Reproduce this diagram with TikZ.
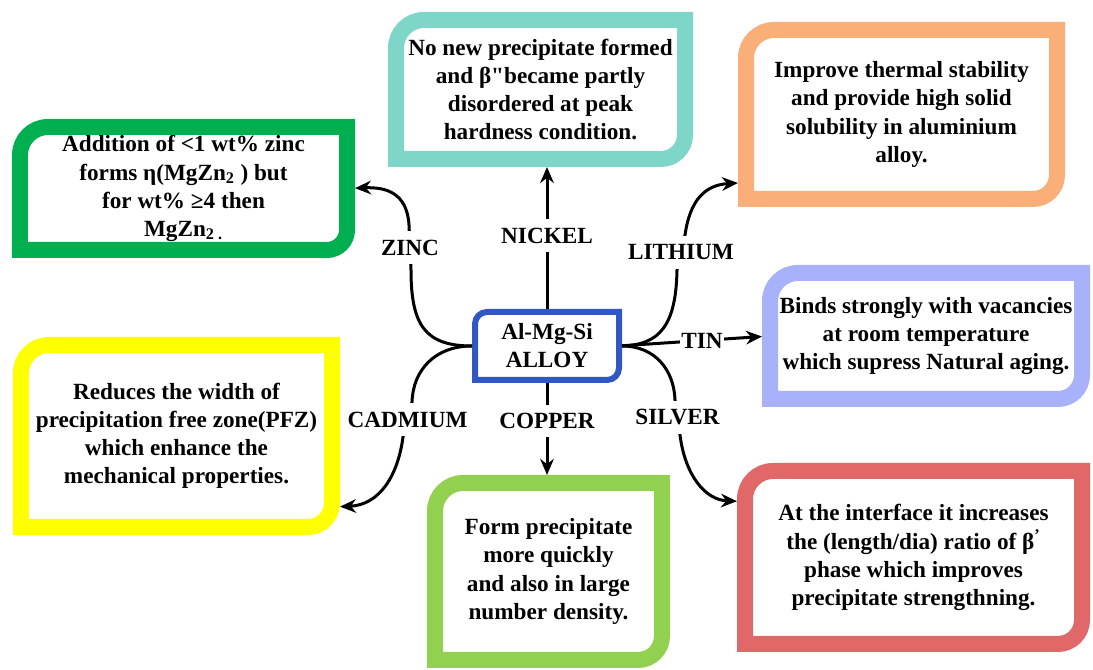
\documentclass[tikz,border=0pt]{standalone}
\usepackage{fontspec}
\setmainfont{Liberation Serif}
\usetikzlibrary{arrows.meta}

\definecolor{zinccol}{RGB}{0,176,80}
\definecolor{nickelcol}{RGB}{125,214,200}
\definecolor{lithiumcol}{RGB}{250,175,120}
\definecolor{tincol}{RGB}{168,178,250}
\definecolor{cadmiumcol}{RGB}{255,255,0}
\definecolor{coppercol}{RGB}{146,208,80}
\definecolor{silvercol}{RGB}{224,104,104}
\definecolor{alloycol}{RGB}{48,88,196}

\tikzset{
  leaf/.style={inner sep=0pt, outer sep=0pt, align=center,
    font=\fontsize{16.5}{20}\selectfont\bfseries},
  frame/.style={line width=4mm, line join=miter},
  link/.style={line width=0.75mm, -{Stealth[length=4mm,width=3.4mm]},
    shorten >=2mm, shorten <=0.75mm},
  tag/.style={fill=white, inner xsep=1pt, inner ysep=6pt,
    font=\fontsize{16.5}{20}\selectfont\bfseries},
}

% box outline: round top-left and bottom-right corners, square elsewhere
\newcommand{\leafframe}[4]{%
  \draw[frame, draw=#2]
    ([xshift=#3]#1.north west) -- (#1.north east) -- ([yshift=#4]#1.south east)
    arc[start angle=0, end angle=-90, radius=#4] -- (#1.south west)
    -- ([yshift=-#3]#1.north west)
    arc[start angle=180, end angle=90, radius=#3] -- cycle;
}

\begin{document}
\begin{tikzpicture}[x=0.25mm, y=0.25mm]
\useasboundingbox[fill=white] (0,0) rectangle (1093,670);

% centre and the seven elements
\node[leaf, minimum width=36mm, minimum height=17mm] (alloy) at (547,324) {Al-Mg-Si\\ALLOY};
\node[leaf, minimum width=81.75mm, minimum height=30.75mm] (zinc) at (183.5,481.5)
  {Addition of <1 wt\% zinc\\ forms η(MgZn\textsubscript{2} ) but\\for wt\% ≥4 then\\MgZn\textsubscript{2 .}};
\node[leaf, minimum width=72.25mm, minimum height=34.75mm] (nickel) at (540.5,580.5)
  {No new precipitate formed\\and β\textquotedbl became partly\\disordered at peak\\hardness condition.};
\node[leaf, minimum width=77.75mm, minimum height=42.25mm] (lithium) at (901.5,555.5)
  {Improve thermal stability\\and provide high solid\\solubility in aluminium\\alloy.};
\node[leaf, minimum width=78mm, minimum height=31.5mm] (tin) at (926,334)
  {Binds strongly with vacancies\\at room temperature\\which supress Natural aging.};
\node[leaf, minimum width=77.75mm, minimum height=45.5mm] (cadmium) at (176.5,234)
  {Reduces the width of\\precipitation free zone(PFZ)\\which enhance the\\mechanical properties.};
\node[leaf, minimum width=56.75mm, minimum height=44.25mm] (copper) at (548.5,98.5)
  {Form precipitate\\more quickly\\and also in large\\number density.};
\node[leaf, minimum width=84.25mm, minimum height=43.25mm] (silver) at (913.5,112.5)
  {At the interface it increases\\the (length/dia) ratio of β\textsuperscript{'}\\phase which improves\\precipitate strengthning.};

\leafframe{zinc}{zinccol}{7mm}{5mm}
\leafframe{nickel}{nickelcol}{7mm}{6mm}
\leafframe{lithium}{lithiumcol}{7mm}{6mm}
\leafframe{tin}{tincol}{7mm}{6mm}
\leafframe{cadmium}{cadmiumcol}{7mm}{6mm}
\leafframe{copper}{coppercol}{7mm}{6mm}
\leafframe{silver}{silvercol}{7mm}{6mm}
\draw[line width=1.5mm, draw=alloycol]
  ([xshift=3mm]alloy.north west) -- (alloy.north east) -- ([yshift=3mm]alloy.south east)
  arc[start angle=0, end angle=-90, radius=3mm] -- (alloy.south west)
  -- ([yshift=-3mm]alloy.north west)
  arc[start angle=180, end angle=90, radius=3mm] -- cycle;

% connectors
\draw[link] (alloy.west) .. controls (425,324) and (411,345) .. (411,400)
  -- node[tag] {ZINC} (409,445) .. controls (407,478) and (385,483) .. (zinc.east);
\draw[link] (alloy.north) -- node[tag] {NICKEL} (alloy.north |- nickel.south);
\draw[link] (alloy.east) .. controls (660,325) and (676,345) .. (677,400)
  -- node[tag] {LITHIUM} (685,435) .. controls (690,470) and (705,485) .. ([yshift=-17mm]lithium.west);
\draw[link] (alloy.east) -- node[tag, pos=0.55] {TIN} (tin.west);
\draw[link] (alloy.east) .. controls (655,324) and (674,300) .. (675,270)
  -- node[tag] {SILVER} (680,235) .. controls (685,195) and (705,170) .. ([yshift=14mm]silver.west);
\draw[link] (alloy.south) -- node[tag, pos=0.4] {COPPER} (alloy.south |- copper.north);
\draw[link] (alloy.west) .. controls (435,324) and (413,300) .. (412,268)
  -- node[tag] {CADMIUM} (403,233) .. controls (398,195) and (380,165) .. ([yshift=-17.75mm]cadmium.east);
\end{tikzpicture}
\end{document}
